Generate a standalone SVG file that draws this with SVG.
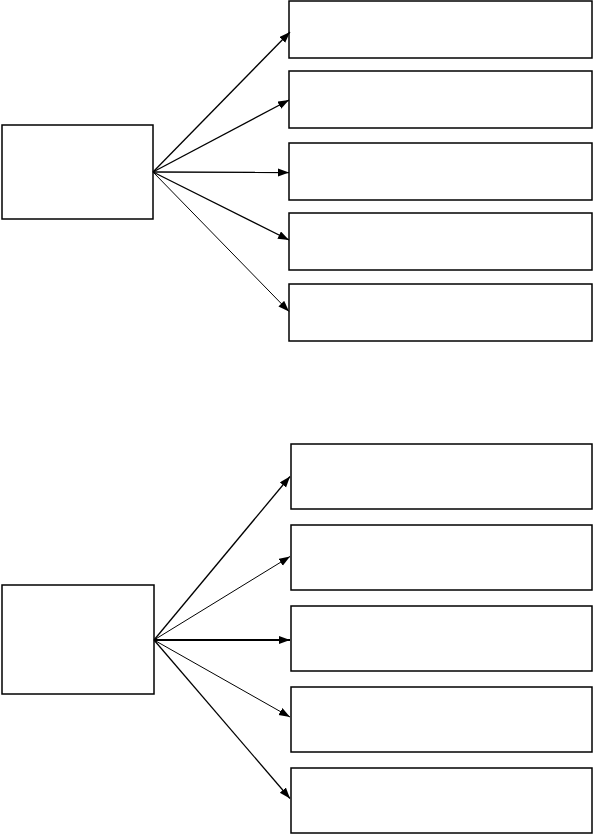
<svg xmlns="http://www.w3.org/2000/svg" width="593" height="834" viewBox="0 0 593 834">
<style>
.box{fill:#fff;stroke:#000;stroke-width:1.5}
.c{stroke:#000;fill:none;stroke-width:1.3;marker-end:url(#ah)}
.t{stroke-width:1}
.k{stroke-width:2}
</style>
<defs>
<marker id="ah" markerUnits="userSpaceOnUse" markerWidth="12" markerHeight="10" refX="11" refY="4" orient="auto">
<path d="M0,0 L11,4 L0,8 Z" fill="#000"/>
</marker>
</defs>
<rect width="593" height="834" fill="#fff"/>
<g id="nodeA"><rect class="box" x="2" y="125" width="151" height="94"/></g>
<g id="nodeA1"><rect class="box" x="289" y="1" width="303" height="57"/></g>
<g id="nodeA2"><rect class="box" x="289" y="71" width="303" height="57"/></g>
<g id="nodeA3"><rect class="box" x="289" y="143" width="303" height="57"/></g>
<g id="nodeA4"><rect class="box" x="289" y="213" width="303" height="57"/></g>
<g id="nodeA5"><rect class="box" x="289" y="284" width="303" height="57"/></g>
<g id="nodeB"><rect class="box" x="2" y="585" width="152" height="109"/></g>
<g id="nodeB1"><rect class="box" x="291" y="444" width="301" height="65"/></g>
<g id="nodeB2"><rect class="box" x="291" y="525" width="301" height="65"/></g>
<g id="nodeB3"><rect class="box" x="291" y="606" width="301" height="65"/></g>
<g id="nodeB4"><rect class="box" x="291" y="687" width="301" height="65"/></g>
<g id="nodeB5"><rect class="box" x="291" y="768" width="301" height="65"/></g>
<g id="connectors">
<line class="c" x1="153" y1="172" x2="290" y2="32"/>
<line class="c" x1="153" y1="172" x2="289" y2="100"/>
<line class="c" x1="153" y1="172" x2="289" y2="172.5"/>
<line class="c" x1="153" y1="172" x2="289" y2="240"/>
<line class="c t" x1="153" y1="172" x2="289" y2="311.5"/>
<line class="c" x1="154" y1="640" x2="290" y2="476.5"/>
<line class="c t" x1="154" y1="640" x2="290" y2="556.5"/>
<line class="c k" x1="154" y1="640" x2="290" y2="640"/>
<line class="c t" x1="154" y1="640" x2="290" y2="717"/>
<line class="c" x1="154" y1="640" x2="290" y2="798.5"/>
</g>
</svg>
